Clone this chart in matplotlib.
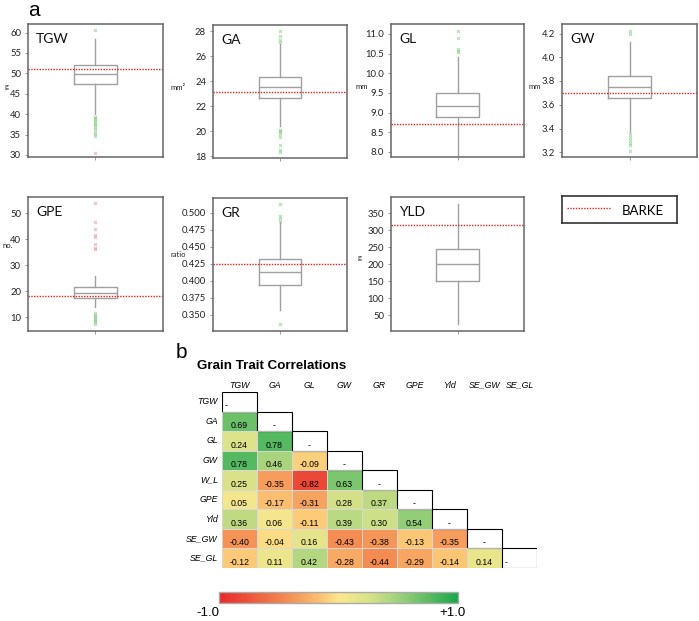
import numpy as np
import matplotlib
matplotlib.use("Agg")
import matplotlib.pyplot as plt
from matplotlib.colors import LinearSegmentedColormap, Normalize
from matplotlib.patches import Rectangle
from matplotlib.lines import Line2D
import matplotlib.cm as cm

# ---- panel a : box plots ----
traits = ["TGW", "GA", "GL", "GW", "GPE", "GR", "YLD"]
units = ["g", "mm²", "mm", "mm", "no.", "ratio", "g"]
q1 = [47.3, 22.66, 8.88, 3.654, 17.3, 0.3937, 150]
med = [49.8, 23.54, 9.17, 3.752, 19.5, 0.4137, 200]
q3 = [52.0, 24.34, 9.49, 3.842, 21.5, 0.432, 245]
whis_lo = [40.0, 20.4, 7.92, 3.37, 14.1, 0.358, 23]
whis_hi = [58.4, 27.0, 10.42, 4.13, 25.8, 0.486, 377]
barke = [51.0, 23.1, 8.70, 3.70, 18.3, 0.4255, 316]
green_out = [
    [60.6, 39.3, 39.0, 38.7, 38.4, 38.1, 37.7, 37.3, 36.8, 36.3, 35.6, 35.1, 34.6],
    [28.0, 27.6, 27.3, 27.1, 20.1, 20.0, 19.9, 19.8, 19.5, 18.9, 18.5, 18.3],
    [11.08, 10.9, 10.62, 10.57, 10.53],
    [4.22, 4.20, 3.35, 3.33, 3.30, 3.28, 3.26, 3.21],
    [11.5, 11.0, 10.5, 10.0, 9.5, 9.0, 8.5, 8.0, 7.5],
    [0.513, 0.495, 0.492, 0.488, 0.337],
    [],
]
red_out = [
    [30.5],
    [],
    [],
    [],
    [54.1, 46.8, 43.9, 41.7, 41.0, 38.1, 36.5, 36.2],
    [],
    [],
]
ylims = [(29.5, 62.1), (17.85, 28.5), (7.87, 11.25), (3.16, 4.28),
         (4.7, 56.3), (0.3265, 0.5216), (3, 398)]
yticks = [
    [30, 35, 40, 45, 50, 55, 60],
    [18, 20, 22, 24, 26, 28],
    [8.0, 8.5, 9.0, 9.5, 10.0, 10.5, 11.0],
    [3.2, 3.4, 3.6, 3.8, 4.0, 4.2],
    [10, 20, 30, 40, 50],
    [0.350, 0.375, 0.400, 0.425, 0.450, 0.475, 0.500],
    [50, 100, 150, 200, 250, 300, 350],
]
tick_fmt = ["{:.0f}", "{:.0f}", "{:.1f}", "{:.1f}", "{:.0f}", "{:.3f}", "{:.0f}"]

# ---- panel b : correlation table ----
col_names = ["TGW", "GA", "GL", "GW", "GR", "GPE", "Yld", "SE_GW", "SE_GL"]
row_names = ["TGW", "GA", "GL", "GW", "W_L", "GPE", "Yld", "SE_GW", "SE_GL"]
corr_rows = [
    [],
    [0.69],
    [0.24, 0.78],
    [0.78, 0.46, -0.09],
    [0.25, -0.35, -0.82, 0.63],
    [0.05, -0.17, -0.31, 0.28, 0.37],
    [0.36, 0.06, -0.11, 0.39, 0.30, 0.54],
    [-0.40, -0.04, 0.16, -0.43, -0.38, -0.13, -0.35],
    [-0.12, 0.11, 0.42, -0.28, -0.44, -0.29, -0.14, 0.14],
]

W, H = 699, 621
fig = plt.figure(figsize=(W / 100, H / 100), dpi=100)

def fig_box(left, top, right, bottom):
    return [left / W, 1 - bottom / H, (right - left) / W, (bottom - top) / H]

boxes = [(28, 24, 163, 157), (213, 25, 347, 158), (391, 24, 524, 157), (562, 24, 697, 157),
         (28, 197, 163, 331), (213, 198, 347, 331), (391, 197, 524, 331)]
unit_pos = [(-0.17, 0.53), (-0.32, 0.53), (-0.27, 0.53), (-0.25, 0.53),
            (-0.19, 0.635), (-0.32, 0.575), (-0.25, 0.545)]

fnt = "Lato"
grey = "#a0a0a0"
for i, name in enumerate(traits):
    ax = fig.add_axes(fig_box(*boxes[i]))
    stats = [dict(med=med[i], q1=q1[i], q3=q3[i], whislo=whis_lo[i],
                  whishi=whis_hi[i], fliers=[])]
    ax.bxp(stats, positions=[1], widths=0.32, showfliers=False, patch_artist=False,
           boxprops=dict(color=grey, lw=1.0), whiskerprops=dict(color=grey, lw=1.0),
           medianprops=dict(color=grey, lw=1.0), capprops=dict(lw=0))
    if green_out[i]:
        ax.plot([1] * len(green_out[i]), green_out[i], "x", color="#8bd48b",
                ms=2.0, mew=0.8, alpha=0.7)
    if red_out[i]:
        ax.plot([1] * len(red_out[i]), red_out[i], "x", color="#f29a9a",
                ms=2.0, mew=0.8, alpha=0.7)
    ax.axhline(barke[i], color="#e8211b", ls=(0, (1, 1)), lw=1.0)
    ax.set_xlim(0.5, 1.5)
    ax.set_ylim(*ylims[i])
    ax.set_xticks([1])
    ax.set_xticklabels([""])
    ax.set_yticks(yticks[i])
    ax.set_yticklabels([tick_fmt[i].format(v) for v in yticks[i]],
                       fontsize=6.8, family=fnt, color="#222222")
    ax.tick_params(length=2, width=0.6, color="#888888", pad=3)
    for s in ax.spines.values():
        s.set_color("#666666")
        s.set_linewidth(1.1)
    ax.text(0.06, 0.93, name, transform=ax.transAxes, fontsize=10, family=fnt,
            va="top", ha="left", color="#111111")
    ax.text(unit_pos[i][0], unit_pos[i][1], units[i], transform=ax.transAxes,
            fontsize=5.5, family=fnt, ha="left", va="center", color="#222222")

# legend box
lax = fig.add_axes(fig_box(562, 196, 677, 223))
lax.set_xlim(0, 1)
lax.set_ylim(0, 1)
lax.set_xticks([])
lax.set_yticks([])
for s in lax.spines.values():
    s.set_color("#333333")
    s.set_linewidth(1.2)
lax.add_line(Line2D([0.04, 0.42], [0.55, 0.55], color="#e8211b", ls=(0, (1, 1)), lw=1.0))
lax.text(0.52, 0.45, "BARKE", fontsize=9.5, family=fnt, va="center", ha="left")

fig.text(28 / W, 1 - 10 / H, "a", fontsize=15, family="Liberation Sans", va="center")
fig.text(176 / W, 1 - 353 / H, "b", fontsize=15, family="Liberation Sans", va="center")
fig.text(197 / W, 1 - 366 / H, "Grain Trait Correlations", fontsize=9.6,
         family="Liberation Sans", weight="bold", va="center")

# correlation colours
cmap = LinearSegmentedColormap.from_list(
    "rg", [(0.0, "#e8282a"), (0.25, "#f2804c"), (0.42, "#fbbf70"), (0.5, "#fbe78c"),
           (0.62, "#dce38a"), (0.75, "#9fd17c"), (1.0, "#1aa64a")])
norm = Normalize(-1, 1)

n = len(row_names)
mat = np.full((n, n), np.nan)
for r, vals in enumerate(corr_rows):
    for c, v in enumerate(vals):
        mat[r, c] = v

hax = fig.add_axes(fig_box(222, 392, 537, 568))
hax.pcolormesh(np.arange(n + 1) - 0.5, np.arange(n + 1) - 0.5,
               np.ma.masked_invalid(mat), cmap=cmap, norm=norm, edgecolors="none")
hax.set_xlim(-0.5, n - 0.5)
hax.set_ylim(n - 0.5, -0.5)
hax.axis("off")
cf = "Liberation Sans"
for r in range(n):
    for c, v in enumerate(corr_rows[r]):
        hax.add_patch(Rectangle((c - 0.5, r - 0.5), 1, 1, fc="none", ec="#d8d8d8", lw=0.6))
        hax.text(c, r + 0.22, f"{v:.2f}", ha="center", va="center", fontsize=6.3, family=cf)
    hax.add_patch(Rectangle((r - 0.5, r - 0.5), 1, 1, fc="white", ec="black", lw=0.8))
    dx = -0.38 if r in (0, n - 1) else 0
    hax.text(r + dx, r + 0.22, "-", ha="center", va="center", fontsize=6.3, family=cf)
    hax.text(-0.62, r, row_names[r], ha="right", va="center", fontsize=6.3,
             family=cf, style="italic")
    hax.text(r, -0.62, col_names[r], ha="center", va="bottom", fontsize=6.3,
             family=cf, style="italic")

# colour bar
cax = fig.add_axes(fig_box(219, 592, 458, 603))
cb = fig.colorbar(cm.ScalarMappable(norm=norm, cmap=cmap), cax=cax,
                  orientation="horizontal")
cb.set_ticks([])
cb.outline.set_edgecolor("#aaaaaa")
cb.outline.set_linewidth(1.0)
fig.text(208 / W, 1 - 613 / H, "-1.0", fontsize=9.5, family=cf, ha="center", va="center")
fig.text(452 / W, 1 - 613 / H, "+1.0", fontsize=9.5, family=cf, ha="center", va="center")

fig.savefig("out.png", dpi=100)
